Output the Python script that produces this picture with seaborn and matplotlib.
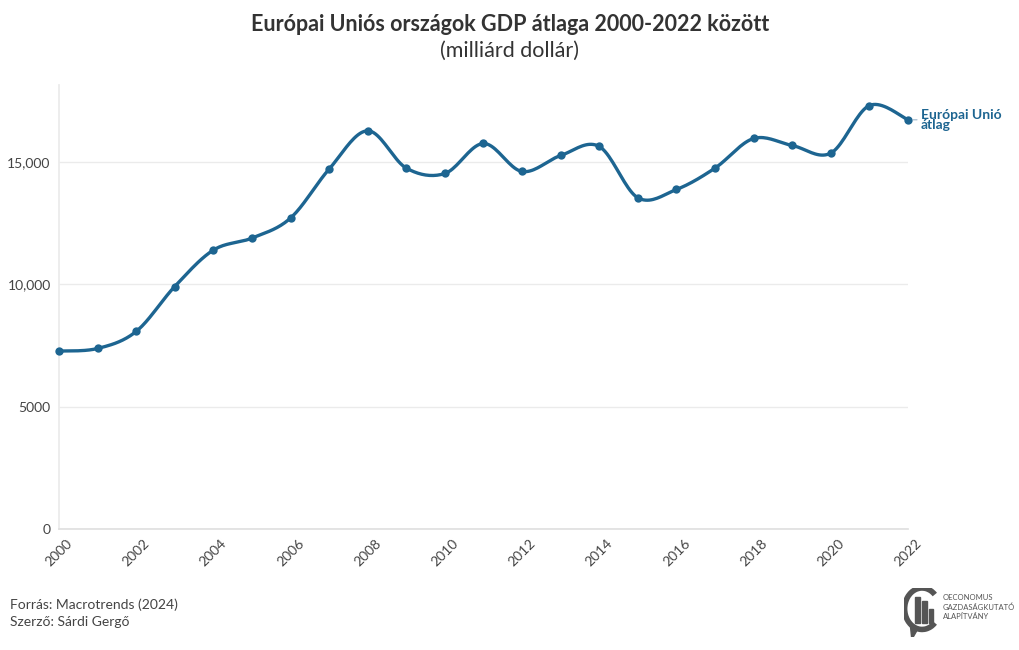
import numpy as np
import pandas as pd
import matplotlib
matplotlib.use('Agg')
import matplotlib.pyplot as plt
import matplotlib.patches as mpatches
from matplotlib.ticker import FuncFormatter
import seaborn as sns

# Data (milliard dollars)
YEARS = list(range(2000, 2023))
GDP   = [7277, 7384, 8079, 9918, 11406, 11897, 12715, 14718, 16284, 14759,
         14538, 15765, 14620, 15274, 15642, 13545, 13884, 14759, 15969, 15683,
         15372, 17318, 16733]

TITLE     = 'Európai Uniós országok GDP átlaga 2000-2022 között'
SUBTITLE  = '(milliárd dollár)'
LINE_NAME = 'Európai Unió\nátlag'
SOURCE    = 'Forrás: Macrotrends (2024)'
AUTHOR    = 'Szerző: Sárdi Gergő'

BLUE  = '#1d6591'
GREY  = '#444444'


def spline(x, y, n=20, tension=0.5):
    # cardinal spline through the points, just for drawing the smooth line
    x = np.asarray(x, float)
    y = np.asarray(y, float)
    xs, ys = [], []
    for i in range(len(x) - 1):
        p0 = (x[max(i - 1, 0)], y[max(i - 1, 0)])
        p1 = (x[i], y[i])
        p2 = (x[i + 1], y[i + 1])
        p3 = (x[min(i + 2, len(x) - 1)], y[min(i + 2, len(y) - 1)])
        m1 = ((p2[0] - p0[0]) * tension, (p2[1] - p0[1]) * tension)
        m2 = ((p3[0] - p1[0]) * tension, (p3[1] - p1[1]) * tension)
        t = np.linspace(0, 1, n, endpoint=False)
        h00 = 2 * t**3 - 3 * t**2 + 1
        h10 = t**3 - 2 * t**2 + t
        h01 = -2 * t**3 + 3 * t**2
        h11 = t**3 - t**2
        xs.extend(h00 * p1[0] + h10 * m1[0] + h01 * p2[0] + h11 * m2[0])
        ys.extend(h00 * p1[1] + h10 * m1[1] + h01 * p2[1] + h11 * m2[1])
    xs.append(x[-1])
    ys.append(y[-1])
    return np.array(xs), np.array(ys)


sns.set_theme(style='white')
plt.rcParams['font.family'] = ['Lato', 'DejaVu Sans']

df = pd.DataFrame({'year': YEARS, 'gdp': GDP})
sx, sy = spline(df['year'], df['gdp'])
smooth = pd.DataFrame({'year': sx, 'gdp': sy})

fig = plt.figure(figsize=(10.2, 6.5), dpi=100)
ax = fig.add_axes([0.0578, 0.186, 0.8324, 0.683])

sns.lineplot(data=smooth, x='year', y='gdp', ax=ax, color=BLUE, linewidth=2.4,
             sort=False, estimator=None, clip_on=False)
sns.scatterplot(data=df, x='year', y='gdp', ax=ax, color=BLUE, s=36,
                edgecolor=BLUE, linewidth=0, zorder=3, clip_on=False)

ax.set_xlim(2000, 2022)
ax.set_ylim(0, 18150)
ax.set_xticks(range(2000, 2023, 2))
ax.set_yticks([0, 5000, 10000, 15000])
ax.yaxis.set_major_formatter(
    FuncFormatter(lambda v, p: f'{int(v):,}' if v >= 10000 else f'{int(v)}'))
ax.set_xlabel('')
ax.set_ylabel('')
ax.grid(axis='y', color='#ebebeb', linewidth=1)
ax.grid(axis='x', visible=False)
for side in ['top', 'right']:
    ax.spines[side].set_visible(False)
ax.spines['left'].set_color('#ebebeb')
ax.spines['bottom'].set_color('#e0e0e0')
ax.tick_params(axis='x', labelrotation=45, labelsize=10, colors=GREY,
               length=4, color='#e0e0e0', pad=2)
ax.tick_params(axis='y', labelsize=10, colors=GREY, length=0, pad=6)
for lbl in ax.get_xticklabels():
    lbl.set_ha('center')
    lbl.set_va('top')
ax.set_axisbelow(True)

# end label with a short leader dash
last_x, last_y = df['year'].iloc[-1], df['gdp'].iloc[-1]
ax.annotate('', xy=(last_x, last_y), xytext=(6.5, 0),
            textcoords='offset points',
            arrowprops=dict(arrowstyle='-', color='#9ab3c8', lw=0.8,
                            shrinkA=0, shrinkB=3.5),
            annotation_clip=False)
ax.annotate(LINE_NAME, xy=(last_x, last_y), xytext=(9, 0),
            textcoords='offset points', ha='left', va='center',
            fontsize=10, fontweight='bold', color=BLUE, linespacing=0.8,
            annotation_clip=False)

fig.text(0.5, 0.963, TITLE, ha='center', va='center', fontsize=15.5,
         fontweight='bold', color='#333333')
fig.text(0.5, 0.922, SUBTITLE, ha='center', va='center', fontsize=15.5,
         color='#333333')

fig.text(0.01, 0.07, SOURCE, ha='left', va='center', fontsize=10, color=GREY)
fig.text(0.01, 0.043, AUTHOR, ha='left', va='center', fontsize=10, color=GREY)

# logo
lax = fig.add_axes([0.886, 0.02, 0.036, 0.075])
lax.set_xlim(0, 1)
lax.set_ylim(0, 1)
lax.axis('off')
lax.add_patch(mpatches.Arc((0.5, 0.58), 0.95, 0.85, theta1=40, theta2=320,
                           color='#555555', linewidth=4))
for bx, bh in [(0.32, 0.55), (0.5, 0.45), (0.68, 0.3)]:
    lax.add_patch(mpatches.Rectangle((bx, 0.28), 0.13, bh, color='#555555'))
lax.add_patch(mpatches.Polygon([[0.18, 0.25], [0.38, 0.16], [0.22, -0.05]],
                               color='#555555'))
fig.text(0.924, 0.066, 'OECONOMUS\nGAZDASÁGKUTATÓ\nALAPÍTVÁNY', ha='left',
         va='center', fontsize=5.5, color='#555555', linespacing=1.3)

plt.savefig('out.png', dpi=100)
